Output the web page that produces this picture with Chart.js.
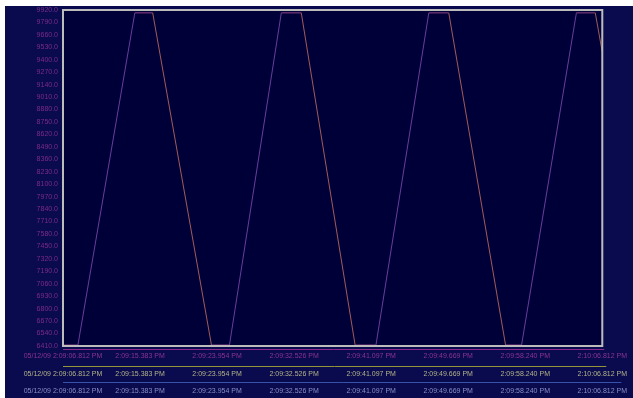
<!DOCTYPE html>
<html>
<head>
<meta charset="utf-8">
<script src="https://cdn.jsdelivr.net/npm/chart.js@4"></script>
<style>
  html, body { margin: 0; padding: 0; background: #ffffff; }
  #wrap { width: 633px; height: 398px; }
</style>
</head>
<body>
<div id="wrap"><canvas id="c" width="633" height="398"></canvas></div>
<script>
// Elapsed seconds from 2:09:06.812 PM and the sampled signal value at each vertex
const elapsedSec = [0.00, 1.66, 7.99, 9.98, 16.52, 18.52, 24.29, 26.51, 32.50, 34.82, 40.70, 42.92, 49.24, 51.02, 57.12, 59.22, 60.00];
const signal     = [6420, 6420, 9890, 9890, 6420, 6420, 9890, 9890, 6420, 6420, 9890, 9890, 6420, 6420, 9890, 9890, 9480];

// Value axis ticks
const yTicks = [9920, 9790, 9660, 9530, 9400, 9270, 9140, 9010, 8880, 8750, 8620, 8490, 8360, 8230,
                8100, 7970, 7840, 7710, 7580, 7450, 7320, 7190, 7060, 6930, 6800, 6670, 6540, 6410];

// Time axis ticks (seconds) and their labels
const timeTicks = [0, 8.5714, 17.1429, 25.7143, 34.2857, 42.8571, 51.4286, 60];
const timeLabels = ["05/12/09 2:09:06.812 PM", "2:09:15.383 PM", "2:09:23.954 PM", "2:09:32.526 PM",
                    "2:09:41.097 PM", "2:09:49.669 PM", "2:09:58.240 PM", "2:10:06.812 PM"];

const points = elapsedSec.map((t, i) => ({ x: t, y: signal[i] }));

const FONT = { family: "'Liberation Sans', Arial, sans-serif", size: 7 };

function timeAxis(color, weight, height, pad) {
  return {
    type: 'linear',
    position: 'bottom',
    weight: weight,
    min: 0,
    max: 60,
    grid: { display: false, drawTicks: false },
    border: { display: false },
    afterBuildTicks: s => { s.ticks = timeTicks.map(v => ({ value: v })); },
    afterFit: s => { s.height = height; },
    ticks: {
      color: color,
      font: FONT,
      padding: pad,
      autoSkip: false,
      maxRotation: 0,
      minRotation: 0,
      callback: (v, i) => timeLabels[i]
    }
  };
}

const backdrop = {
  id: 'backdrop',
  beforeDraw(chart) {
    const ctx = chart.ctx;
    const a = chart.chartArea;
    ctx.save();
    ctx.fillStyle = '#ffffff';
    ctx.fillRect(0, 0, chart.width, chart.height);
    ctx.fillStyle = '#0a0a4e';
    ctx.fillRect(5, 6, chart.width - 5, chart.height - 6);
    ctx.fillStyle = '#000038';
    ctx.fillRect(a.left, a.top, a.right - a.left, a.bottom - a.top);
    ctx.restore();
  },
  afterDraw(chart) {
    const ctx = chart.ctx;
    const a = chart.chartArea;
    ctx.save();
    // plot frame
    ctx.strokeStyle = '#bcbcbc';
    ctx.lineWidth = 2;
    ctx.strokeRect(a.left, a.top, a.right - a.left, a.bottom - a.top);
    // axis rules under the plot and between the time rows
    const rules = [
      { y: a.bottom + 3.5, x2: a.right + 2, c: '#8a2a8a' },
      { y: a.bottom + 20.5, x2: a.right + 4, c: '#94943a' },
      { y: a.bottom + 36.5, x2: a.right + 19, c: '#3452a8' }
    ];
    ctx.lineWidth = 1;
    rules.forEach(r => {
      ctx.strokeStyle = r.c;
      ctx.beginPath();
      ctx.moveTo(a.left, r.y);
      ctx.lineTo(r.x2, r.y);
      ctx.stroke();
    });
    ctx.restore();
  }
};

new Chart(document.getElementById('c'), {
  type: 'line',
  data: {
    datasets: [{
      data: points,
      xAxisID: 'x',
      yAxisID: 'y',
      borderWidth: 1,
      borderColor: '#7a3c98',
      pointRadius: 0,
      tension: 0,
      segment: {
        borderColor: c => {
          const d = c.p1.parsed.y - c.p0.parsed.y;
          if (d > 0) return '#6a3c9c';
          if (d < 0) return '#a35a58';
          return '#8e4286';
        }
      }
    }]
  },
  options: {
    responsive: false,
    animation: false,
    devicePixelRatio: 1,
    layout: { padding: { left: 5, right: 29, top: 10, bottom: 0 } },
    plugins: { legend: { display: false }, tooltip: { enabled: false } },
    scales: {
      x: timeAxis('#8a3490', 0, 20, 6),
      x2: timeAxis('#b4b488', 1, 16, 4),
      x3: timeAxis('#8890c4', 2, 16, 5),
      y: {
        type: 'linear',
        position: 'left',
        min: 6410,
        max: 9920,
        grid: { display: false, drawTicks: false },
        border: { display: false },
        afterBuildTicks: s => { s.ticks = yTicks.map(v => ({ value: v })); },
        afterFit: s => { s.width = 58; },
        ticks: {
          color: '#7c2c88',
          font: FONT,
          padding: 5,
          autoSkip: false,
          callback: v => v.toFixed(1)
        }
      }
    }
  },
  plugins: [backdrop]
});
</script>
</body>
</html>
